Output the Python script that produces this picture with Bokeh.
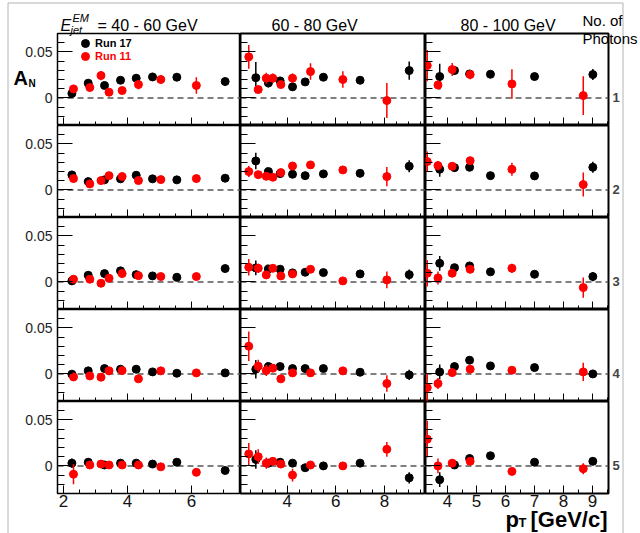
import numpy as np
from bokeh.plotting import figure
from bokeh.models import (Range1d, FixedTicker, LinearAxis, Span, Legend,
                          LegendItem, ColumnDataSource, GridBox, Column)
from bokeh.core.properties import value
from bokeh.embed import file_html
from bokeh.resources import INLINE

# ---------------------------------------------------------------------------
# Transverse single-spin asymmetry A_N vs pT, split by jet energy (columns)
# and by number of photons in the EM jet (rows). Run 17 (black), Run 11 (red).
# ---------------------------------------------------------------------------
energy_bins = ["40 - 60 GeV", "60 - 80 GeV", "80 - 100 GeV"]
photon_rows = ["1", "2", "3", "4", "5"]

# E_jet = 40 - 60 GeV
pt17_40 = [2.26, 2.77, 3.28, 3.78, 4.27, 4.78, 5.54, 7.05]
an17_40 = [
    [0.0048, 0.0160, 0.0135, 0.0192, 0.0214, 0.0228, 0.0225, 0.0178],
    [0.0163, 0.0090, 0.0109, 0.0120, 0.0159, 0.0120, 0.0109, 0.0127],
    [0.0011, 0.0072, 0.0090, 0.0120, 0.0079, 0.0065, 0.0050, 0.0145],
    [-0.0003, 0.0033, 0.0058, 0.0051, 0.0051, 0.0022, 0.0007, 0.0011],
    [0.0030, 0.0040, 0.0010, 0.0030, 0.0030, 0.0020, 0.0040, -0.0050],
]
err17_40 = [
    [0.004, 0.003, 0.003, 0.002, 0.002, 0.002, 0.002, 0.0045],
    [0.003, 0.002, 0.002, 0.002, 0.002, 0.002, 0.002, 0.003],
    [0.003, 0.002, 0.002, 0.002, 0.002, 0.002, 0.002, 0.003],
    [0.003, 0.002, 0.002, 0.002, 0.002, 0.002, 0.002, 0.003],
    [0.005, 0.003, 0.002, 0.002, 0.002, 0.002, 0.002, 0.003],
]
pt11_40 = [2.31, 2.82, 3.17, 3.42, 3.83, 4.34, 5.04, 6.15]
an11_40 = [
    [0.0098, 0.0113, 0.0243, 0.0062, 0.0080, 0.0145, 0.0200, 0.0135],
    [0.0123, 0.0065, 0.0101, 0.0155, 0.0145, 0.0101, 0.0112, 0.0123],
    [0.0029, 0.0029, -0.0015, 0.0040, 0.0090, 0.0068, 0.0058, 0.0058],
    [-0.0033, -0.0022, -0.0036, 0.0033, 0.0036, -0.0054, 0.0033, 0.0011],
    [-0.0090, 0.0010, 0.0020, 0.0010, 0.0010, 0.0010, -0.0010, -0.0070],
]
err11_40 = [
    [0.003, 0.003, 0.005, 0.002, 0.002, 0.005, 0.004, 0.009],
    [0.003, 0.002, 0.002, 0.002, 0.002, 0.002, 0.002, 0.004],
    [0.003, 0.002, 0.002, 0.002, 0.002, 0.002, 0.002, 0.003],
    [0.002, 0.002, 0.004, 0.002, 0.002, 0.002, 0.002, 0.003],
    [0.011, 0.003, 0.004, 0.002, 0.002, 0.002, 0.002, 0.003],
]

# E_jet = 60 - 80 GeV
pt17_60 = [2.71, 3.23, 3.71, 4.22, 4.74, 5.49, 7.00, 9.02]
an17_60 = [
    [0.0220, 0.0163, 0.0185, 0.0120, 0.0174, 0.0225, 0.0192, 0.0297],
    [0.0315, 0.0199, 0.0177, 0.0170, 0.0155, 0.0174, 0.0180, 0.0257],
    [0.0152, 0.0141, 0.0138, 0.0098, 0.0105, 0.0101, 0.0087, 0.0079],
    [0.0051, 0.0080, 0.0080, 0.0058, 0.0058, 0.0058, 0.0018, -0.0011],
    [0.0070, 0.0030, 0.0040, 0.0030, -0.0020, 0.0000, 0.0030, -0.0130],
]
err17_60 = [
    [0.017, 0.005, 0.003, 0.004, 0.003, 0.002, 0.002, 0.010],
    [0.009, 0.004, 0.003, 0.003, 0.002, 0.002, 0.002, 0.0065],
    [0.008, 0.004, 0.003, 0.003, 0.002, 0.002, 0.002, 0.0055],
    [0.010, 0.004, 0.003, 0.003, 0.002, 0.002, 0.002, 0.0055],
    [0.010, 0.004, 0.003, 0.003, 0.002, 0.002, 0.002, 0.006],
]
pt11_60 = [2.42, 2.81, 3.14, 3.41, 3.74, 4.22, 4.96, 6.29, 8.10]
an11_60 = [
    [0.0446, 0.0091, 0.0214, 0.0214, 0.0145, 0.0214, 0.0286, 0.0200, -0.0029],
    [0.0199, 0.0166, 0.0148, 0.0137, 0.0188, 0.0260, 0.0272, 0.0217, 0.0145],
    [0.0159, 0.0148, 0.0076, 0.0148, 0.0065, 0.0087, 0.0137, 0.0011, 0.0022],
    [0.0301, 0.0084, 0.0036, 0.0062, -0.0054, 0.0011, 0.0011, 0.0033, -0.0105],
    [0.0130, 0.0100, 0.0030, 0.0050, 0.0020, -0.0100, 0.0010, 0.0000, 0.0180],
]
err11_60 = [
    [0.013, 0.004, 0.006, 0.005, 0.003, 0.005, 0.009, 0.009, 0.019],
    [0.006, 0.004, 0.004, 0.003, 0.003, 0.003, 0.003, 0.003, 0.0105],
    [0.009, 0.005, 0.003, 0.003, 0.003, 0.003, 0.003, 0.003, 0.009],
    [0.016, 0.007, 0.006, 0.004, 0.003, 0.003, 0.003, 0.003, 0.009],
    [0.012, 0.008, 0.006, 0.004, 0.003, 0.007, 0.003, 0.003, 0.008],
]

# E_jet = 80 - 100 GeV
pt17_80 = [3.73, 4.24, 4.76, 5.48, 7.00, 9.01]
an17_80 = [
    [0.0232, 0.0297, 0.0260, 0.0257, 0.0232, 0.0254],
    [0.0224, 0.0242, 0.0246, 0.0155, 0.0152, 0.0246],
    [0.0202, 0.0155, 0.0174, 0.0109, 0.0083, 0.0058],
    [0.0022, 0.0080, 0.0149, 0.0087, 0.0069, 0.0000],
    [-0.0150, 0.0010, 0.0080, 0.0110, 0.0040, 0.0050],
]
err17_80 = [
    [0.014, 0.004, 0.003, 0.003, 0.003, 0.006],
    [0.008, 0.004, 0.003, 0.003, 0.003, 0.006],
    [0.008, 0.004, 0.003, 0.003, 0.003, 0.005],
    [0.008, 0.004, 0.003, 0.003, 0.003, 0.004],
    [0.008, 0.004, 0.004, 0.003, 0.003, 0.004],
]
pt11_80 = [3.30, 3.67, 4.16, 4.78, 6.22, 8.68]
an11_80 = [
    [0.0352, 0.0141, 0.0308, 0.0254, 0.0152, 0.0025],
    [0.0308, 0.0264, 0.0257, 0.0318, 0.0224, 0.0058],
    [0.0094, 0.0043, 0.0094, 0.0137, 0.0148, -0.0062],
    [-0.0149, -0.0105, 0.0014, 0.0051, 0.0040, 0.0022],
    [0.0290, 0.0000, 0.0030, 0.0050, -0.0060, -0.0030],
]
err11_80 = [
    [0.017, 0.005, 0.007, 0.005, 0.016, 0.021],
    [0.011, 0.005, 0.003, 0.003, 0.007, 0.013],
    [0.0145, 0.007, 0.004, 0.004, 0.005, 0.011],
    [0.015, 0.006, 0.004, 0.003, 0.004, 0.010],
    [0.020, 0.008, 0.004, 0.003, 0.003, 0.006],
]

run17 = [(pt17_40, an17_40, err17_40), (pt17_60, an17_60, err17_60), (pt17_80, an17_80, err17_80)]
run11 = [(pt11_40, an11_40, err11_40), (pt11_60, an11_60, err11_60), (pt11_80, an11_80, err11_80)]

x_majors = [[2, 4, 6], [4, 6, 8], [4, 5, 6, 7, 8, 9]]
y_majors = [0, 0.05]
y_tick_text = {0: "0", 0.05: "0.05"}

# ---------------------------------------------------------------------------
# Page geometry (pixels)
# ---------------------------------------------------------------------------
FONT = "Liberation Sans"
PAGE_W, PAGE_H = 640, 533
FRAME_W = [183, 185, 183]
ROW_H = 92
TOP = 33
BOTTOM = 40
LEFT = 57
RIGHT = 32
X_RANGES = [(1.81, 7.53), (2.08, 9.69), (3.24, 9.55)]
Y_LO, Y_HI = -0.03, 0.07


def style_hidden_labels(axis):
    axis.major_label_text_color = None
    axis.major_label_text_font_size = "1px"
    axis.major_label_standoff = 0


def make_panel(ci, ri):
    w = FRAME_W[ci] + (LEFT if ci == 0 else 0) + (RIGHT if ci == 2 else 0)
    h = ROW_H + (TOP if ri == 0 else 0) + (BOTTOM if ri == 4 else 0)
    p = figure(width=w, height=h, output_backend="svg", toolbar_location=None,
               x_range=Range1d(*X_RANGES[ci]), y_range=Range1d(Y_LO, Y_HI),
               min_border_left=LEFT if ci == 0 else 0,
               min_border_right=RIGHT if ci == 2 else 0,
               min_border_top=TOP if ri == 0 else 0,
               min_border_bottom=BOTTOM if ri == 4 else 0)
    p.border_fill_color = None
    p.background_fill_color = "white"
    p.outline_line_color = "black"
    p.outline_line_width = 2 if ci > 0 else 1.5
    p.grid.visible = False

    x0, x1 = X_RANGES[ci]
    xa = p.xaxis[0]
    xa.ticker = FixedTicker(ticks=x_majors[ci],
                            minor_ticks=list(np.arange(np.ceil(x0 * 2) / 2, x1, 0.5)))
    xa.axis_line_color = None
    xa.major_tick_in, xa.major_tick_out = 8, 0
    xa.minor_tick_in, xa.minor_tick_out = 4, 0
    xa.major_tick_line_color = "black"
    xa.minor_tick_line_color = "black"
    if ri == 4:
        xa.major_label_standoff = 1
        xa.major_label_text_font = FONT
        xa.major_label_text_color = "#111111"
        xa.major_label_text_font_size = "17px"
    else:
        style_hidden_labels(xa)

    ya = p.yaxis[0]
    ya.ticker = FixedTicker(ticks=y_majors,
                            minor_ticks=list(np.round(np.arange(-0.03, 0.0701, 0.01), 3)))
    ya.axis_line_color = None
    ya.major_tick_in, ya.major_tick_out = 15, 0
    ya.minor_tick_in, ya.minor_tick_out = 7, 0
    ya.major_tick_line_color = "black"
    ya.minor_tick_line_color = "black"
    if ci == 0:
        ya.major_label_standoff = 5
        ya.major_label_overrides = y_tick_text
        ya.major_label_text_font = FONT
        ya.major_label_text_color = "#222222"
        ya.major_label_text_font_size = "14px"
    else:
        style_hidden_labels(ya)

    if ci == 2:
        # photon multiplicity marker on the right of each row
        p.add_layout(LinearAxis(ticker=FixedTicker(ticks=[0]),
                                major_label_overrides={0: photon_rows[ri]},
                                major_tick_in=0, major_tick_out=0,
                                minor_tick_in=0, minor_tick_out=0,
                                major_tick_line_color=None,
                                minor_tick_line_color=None,
                                axis_line_color=None,
                                major_label_standoff=4,
                                major_label_text_font=FONT,
                                major_label_text_font_style="bold",
                                major_label_text_font_size="13px"), "right")

    p.add_layout(Span(location=0, dimension="width", line_color="#555555",
                      line_dash="6 4", line_width=1.5, level="underlay"))

    renderers = []
    for (pt, an, er), color in ((run17[ci], "black"), (run11[ci], "red")):
        y = np.array(an[ri])
        e = np.array(er[ri])
        src = ColumnDataSource(dict(x=pt, y=y, lo=y - e, hi=y + e))
        p.segment("x", "lo", "x", "hi", source=src, line_color=color, line_width=1.5)
        renderers.append(p.scatter("x", "y", source=src, size=8, marker="circle",
                                   fill_color=color, line_color=color))
    return p, renderers


panels = [[make_panel(ci, ri) for ci in range(3)] for ri in range(5)]

# legend in the top-left panel
p00, (r17, r11) = panels[0][0]
for item, rend, color, ypos in (("Run 17", r17, "black", 72), ("Run 11", r11, "red", 59)):
    p00.add_layout(Legend(items=[LegendItem(label=item, renderers=[rend])],
                          location=(18, ypos), orientation="vertical",
                          border_line_color=None, background_fill_alpha=0,
                          padding=0, margin=0, spacing=0,
                          glyph_width=20, glyph_height=20, label_height=20,
                          label_standoff=0, label_text_font=FONT,
                          label_text_font_size="11px",
                          label_text_font_style="bold",
                          label_text_color=color))

# ---------------------------------------------------------------------------
# Transparent page-sized layer (pixel coordinates, y downwards) for the
# canvas frame, column headers and axis titles.
# ---------------------------------------------------------------------------
page = figure(width=PAGE_W, height=PAGE_H, output_backend="svg", toolbar_location=None,
              x_range=Range1d(0, PAGE_W), y_range=Range1d(PAGE_H, 0),
              x_axis_type=None, y_axis_type=None, min_border=0)
page.grid.visible = False
page.outline_line_color = None
page.background_fill_color = None
page.border_fill_color = None

page.segment(x0=[7.5, 7.5, 622.5], y0=[2.5, 2.5, 2.5],
             x1=[7.5, 622.5, 622.5], y1=[PAGE_H, 2.5, PAGE_H],
             line_color="#b4b4b4", line_width=1)


def put(texts, xs, ys, size, style="normal", color="black"):
    page.text(x=xs, y=ys, text=texts, text_font=value(FONT),
              text_font_size=value(f"{size}px"), text_font_style=style,
              text_color=color, text_align="left", text_baseline="alphabetic")


put(["E"], [60], [25], 16, style="italic")
put(["EM", "jet"], [72, 70], [17, 29], 11, style="italic")
put(["= " + energy_bins[0], energy_bins[1], energy_bins[2]], [97, 271, 460], [25, 25, 25], 16)
put(["No. of", "Photons"], [582, 582], [20, 38], 15)
put(["A"], [13], [77], 20, style="bold")
put(["N"], [28], [83], 10, style="bold")
put(["p", "[GeV/c]"], [505, 530], [519, 519], 22, style="bold")
put(["T"], [518], [522], 13, style="bold")

# the page layer sits in its own box so its frame spans the full page
page_box = Column(children=[page], spacing=0)

children = [(panels[ri][ci][0], ri, ci) for ri in range(5) for ci in range(3)]
children.append((page_box, 0, 0, 5, 3))
layout = GridBox(children=children, spacing=0)

open("out.html", "w").write(file_html(layout, INLINE, title="A_N vs pT"))
